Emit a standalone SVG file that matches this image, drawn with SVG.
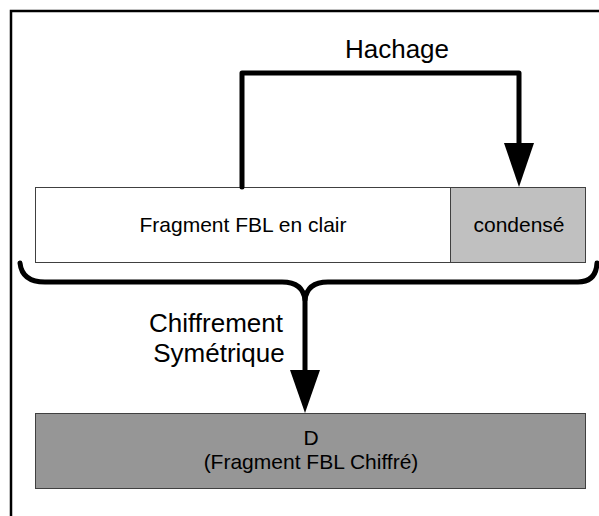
<svg xmlns="http://www.w3.org/2000/svg" width="599" height="516" viewBox="0 0 599 516">
<style>
.lbl{font-family:"Liberation Sans",Arial,sans-serif;fill:#000;text-anchor:middle}
.box{stroke:#404040;stroke-width:1}
.conn{fill:none;stroke:#000;stroke-width:5;stroke-linejoin:round;stroke-linecap:round}
.head{fill:#000}
</style>
<rect x="0" y="0" width="599" height="516" fill="#fff"/>
<rect id="frame" x="11" y="11" width="600" height="520" fill="none" stroke="#000" stroke-width="2.5"/>
<g id="clair">
<rect class="box" x="35.5" y="187.5" width="415" height="75" fill="#fff"/>
<text class="lbl" x="243" y="232" font-size="21">Fragment FBL en clair</text>
</g>
<g id="condense">
<rect class="box" x="450.5" y="187.5" width="135" height="75" fill="#c0c0c0"/>
<text class="lbl" x="519" y="232" font-size="21">condensé</text>
</g>
<g id="chiffre">
<rect class="box" x="35.5" y="413.5" width="550" height="75" fill="#969696"/>
<text class="lbl" x="311" y="445" font-size="21">D</text>
<text class="lbl" x="311" y="469" font-size="21">(Fragment FBL Chiffré)</text>
</g>
<g id="connectors">
<path class="conn" d="M242,187 V73 H519 V145"/>
<polygon class="head" points="504,143 534,143 519,187"/>
<path class="conn" d="M20,263 Q22,282 45,282 H282 Q303,282 305,300 Q307,282 328,282 H578 Q596,282 597,263"/>
<path class="conn" d="M305,298 V372"/>
<polygon class="head" points="290,370 320,370 305,413"/>
</g>
<g id="labels">
<text class="lbl" x="397" y="58" font-size="26">Hachage</text>
<text class="lbl" x="216" y="332" font-size="26">Chiffrement</text>
<text class="lbl" x="219" y="362" font-size="26">Symétrique</text>
</g>
</svg>
